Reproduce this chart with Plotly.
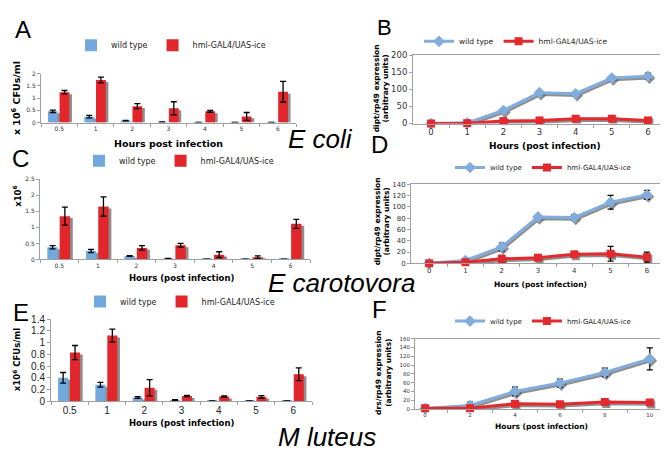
"""Bacterial load and AMP induction panels (A-F) rebuilt with plotly."""

import plotly.graph_objects as go

W, H = 668, 453

BLUE = "#71a8de"
RED = "#e3262b"
SHADOW = "#8e8e8e"
LINE_BLUE = "#82acdc"
LINE_RED = "#e22a2e"
AXIS = "#a0a0a0"
VERDANA = "DejaVu Sans, Verdana, sans-serif"
ARIAL = "Liberation Sans, Arial, sans-serif"

# --- bar panels: CFUs after infection -------------------------------------
HOURS_BAR = ["0.5", "1", "2", "3", "4", "5", "6"]

ECOLI_WT = [0.46, 0.24, 0.08, 0.02, 0.01, 0.005, 0.005]
ECOLI_WT_ERR = [0.05, 0.05, 0.01, 0.005, 0, 0, 0]
ECOLI_ICE = [1.24, 1.74, 0.67, 0.58, 0.46, 0.25, 1.26]
ECOLI_ICE_ERR = [0.07, 0.12, 0.1, 0.27, 0.04, 0.16, 0.42]

ECARO_WT = [0.38, 0.26, 0.11, 0.03, 0.01, 0.01, 0.01]
ECARO_WT_ERR = [0.05, 0.05, 0.01, 0.005, 0, 0, 0]
ECARO_ICE = [1.35, 1.65, 0.36, 0.44, 0.15, 0.07, 1.11]
ECARO_ICE_ERR = [0.28, 0.3, 0.07, 0.06, 0.09, 0.04, 0.14]

MLUT_WT = [0.4, 0.28, 0.065, 0.02, 0.005, 0.005, 0.005]
MLUT_WT_ERR = [0.09, 0.04, 0.015, 0.005, 0, 0, 0]
MLUT_ICE = [0.83, 1.12, 0.23, 0.09, 0.08, 0.075, 0.46]
MLUT_ICE_ERR = [0.12, 0.11, 0.14, 0.01, 0.01, 0.02, 0.11]

# --- line panels: AMP expression ------------------------------------------
HOURS_LINE = [0, 1, 2, 3, 4, 5, 6]

DIPT_ECOLI_WT = [0, 2, 38, 90, 87, 133, 138]
DIPT_ECOLI_WT_ERR = [0.5, 1, 4, 5, 4, 5, 9]
DIPT_ECOLI_ICE = [0, 1, 7, 9, 14, 14, 9]
DIPT_ECOLI_ICE_ERR = [0.5, 1, 3, 3, 4, 4, 3]

DIPT_ECARO_WT = [0, 5, 29, 82, 81, 108, 121]
DIPT_ECARO_WT_ERR = [0.5, 2, 7, 3, 5, 12, 8]
DIPT_ECARO_ICE = [0, 2, 8, 10, 16, 17, 11]
DIPT_ECARO_ICE_ERR = [0.5, 1, 6, 3, 4, 13, 9]

HOURS_DRS = [0, 2, 4, 6, 8, 10]
DRS_WT = [1, 8, 40, 59, 83, 114]
DRS_WT_ERR = [1, 8, 10, 9, 10, 25]
DRS_ICE = [2, 2, 12, 11, 16, 15]
DRS_ICE_ERR = [1, 2, 3, 2, 3, 3]


def dom_x(a, b):
    return [a / W, b / W]


def dom_y(top, bottom):
    return [1 - bottom / H, 1 - top / H]


def names(k):
    s = "" if k == 1 else str(k)
    return "x" + s, "y" + s, "xaxis" + s, "yaxis" + s, "legend" + s


def legend_cfg(cx, cy, size):
    return dict(orientation="h", x=cx / W, y=1 - cy / H, xanchor="center", yanchor="middle",
                font=dict(family=VERDANA, size=size, color="#222"), bgcolor="rgba(0,0,0,0)",
                itemwidth=30)


def bar_panel(fig, k, wt, wt_err, ice, ice_err, ymax, dtick, box, tick_font, leg):
    xa, ya, xname, yname, lname = names(k)
    x0, x1, top, bottom = box
    px = ymax / (bottom - top)
    series = ((wt, wt_err, BLUE, "wild type", -0.31), (ice, ice_err, RED, "hml-GAL4/UAS-ice", 0.01))
    for vals, _, _, _, off in series:
        fig.add_trace(go.Bar(
            x=HOURS_BAR, y=[max(v - 2 * px, 0) for v in vals], offset=off + 0.07, width=0.27,
            marker=dict(color=SHADOW, line=dict(width=0)), xaxis=xa, yaxis=ya,
            showlegend=False, hoverinfo="skip",
        ))
    for vals, errs, color, name, off in series:
        fig.add_trace(go.Bar(
            x=HOURS_BAR, y=vals, offset=off, width=0.27, name=name, legend=lname,
            marker=dict(color=color, line=dict(width=0)), xaxis=xa, yaxis=ya,
            error_y=dict(type="data", array=errs, color="black", thickness=1.3, width=3),
        ))
    fig.update_layout(**{
        xname: dict(domain=dom_x(x0, x1), anchor=ya, type="category", tickson="boundaries",
                    showline=True, linecolor=AXIS, ticks="outside", ticklen=3, tickcolor=AXIS,
                    showgrid=False, tickfont=tick_font),
        yname: dict(domain=dom_y(top, bottom), anchor=xa, range=[0, ymax], dtick=dtick,
                    showline=True, linecolor=AXIS, ticks="outside", ticklen=3, tickcolor=AXIS,
                    showgrid=False, zeroline=False, tickfont=tick_font),
        lname: leg,
    })


def line_panel(fig, k, hours, wt, wt_err, ice, ice_err, ymax, dtick, xrange, box, tick_font, leg):
    xa, ya, xname, yname, lname = names(k)
    x0, x1, top, bottom = box
    py = ymax / (bottom - top)
    px = (xrange[1] - xrange[0]) / (x1 - x0)
    series = ((wt, wt_err, LINE_BLUE, "diamond", "wild type", 9),
              (ice, ice_err, LINE_RED, "square", "hml-GAL4/UAS-ice", 8))
    for vals, _, _, sym, _, size in series:
        fig.add_trace(go.Scatter(
            x=[h + 1.5 * px for h in hours], y=[v - 2 * py for v in vals], mode="lines+markers",
            line=dict(color="rgba(95,95,95,0.7)", width=2.5),
            marker=dict(symbol=sym, size=size, color="rgba(95,95,95,0.7)"),
            xaxis=xa, yaxis=ya, showlegend=False, hoverinfo="skip", cliponaxis=True,
        ))
    for vals, errs, color, sym, name, size in series:
        fig.add_trace(go.Scatter(
            x=hours, y=vals, mode="lines+markers", name=name, legend=lname,
            line=dict(color=color, width=3), marker=dict(symbol=sym, size=size, color=color),
            error_y=dict(type="data", array=errs, color="black", thickness=1.2, width=3),
            xaxis=xa, yaxis=ya, cliponaxis=False,
        ))
    step = hours[1] - hours[0]
    fig.update_layout(**{
        xname: dict(domain=dom_x(x0, x1), anchor=ya, range=xrange, tickvals=hours, ticks="",
                    minor=dict(tickmode="array", tickvals=[h + step / 2 for h in hours[:-1]],
                               ticks="outside", ticklen=3, tickcolor=AXIS),
                    showline=True, mirror=True, linecolor=AXIS, showgrid=False, zeroline=False,
                    tickfont=tick_font),
        yname: dict(domain=dom_y(top, bottom), anchor=xa, range=[0, ymax], dtick=dtick,
                    showline=True, mirror=True, linecolor=AXIS, ticks="outside", ticklen=3,
                    tickcolor=AXIS, showgrid=False, zeroline=False, tickfont=tick_font),
        lname: leg,
    })


def text(x, y, s, size, family=VERDANA, bold=False, angle=0, italic=False):
    return dict(x=x / W, y=1 - y / H, xref="paper", yref="paper", text=s, showarrow=False,
                textangle=angle, xanchor="center", yanchor="middle", borderpad=0,
                font=dict(family=family, size=size, color="black",
                          weight="bold" if bold else "normal",
                          style="italic" if italic else "normal"))


fig = go.Figure()

bar_panel(fig, 1, ECOLI_WT, ECOLI_WT_ERR, ECOLI_ICE, ECOLI_ICE_ERR, 2, 0.5,
          (33, 288, 62, 112), dict(family=VERDANA, size=6, color="#333"), legend_cfg(163, 33, 8))
line_panel(fig, 2, HOURS_LINE, DIPT_ECOLI_WT, DIPT_ECOLI_WT_ERR, DIPT_ECOLI_ICE, DIPT_ECOLI_ICE_ERR,
           200, 50, [-0.5, 6.5], (405, 658, 43, 113), dict(family=VERDANA, size=8.5, color="#333"),
           legend_cfg(508, 29, 7.5))
bar_panel(fig, 3, ECARO_WT, ECARO_WT_ERR, ECARO_ICE, ECARO_ICE_ERR, 2.5, 0.5,
          (32, 302, 170, 252), dict(family=VERDANA, size=6, color="#333"), legend_cfg(171, 151, 8))
line_panel(fig, 4, HOURS_LINE, DIPT_ECARO_WT, DIPT_ECARO_WT_ERR, DIPT_ECARO_ICE, DIPT_ECARO_ICE_ERR,
           140, 20, [-0.5, 6.5], (403, 657, 175, 256), dict(family=VERDANA, size=7, color="#333"),
           legend_cfg(535, 158, 7))
bar_panel(fig, 5, MLUT_WT, MLUT_WT_ERR, MLUT_ICE, MLUT_ICE_ERR, 1.4, 0.2,
          (43, 304, 313, 397), dict(family=ARIAL, size=10, color="#222"), legend_cfg(172, 295, 8))
line_panel(fig, 6, HOURS_DRS, DRS_WT, DRS_WT_ERR, DRS_ICE, DRS_ICE_ERR,
           160, 20, [-0.45, 10.5], (407, 653, 333, 405), dict(family=VERDANA, size=5.5, color="#333"),
           legend_cfg(535, 315, 7))

notes = [
    # panel letters
    text(15, 17, "A", 24, ARIAL), text(376, 15, "B", 22, ARIAL), text(12, 149, "C", 24, ARIAL),
    text(371, 134, "D", 24, ARIAL), text(13, 306, "E", 24, ARIAL), text(371, 303, "F", 24, ARIAL),
    # bacteria
    text(312, 129, "E coli", 26, ARIAL, italic=True),
    text(333, 276, "E carotovora", 26, ARIAL, italic=True),
    text(319, 434, "M luteus", 26, ARIAL, italic=True),
    # axis titles
    text(160, 133, "Hours post infection", 9.5, bold=True),
    text(8, 87, "x 10<sup>6</sup> CFUs/ml", 9.5, bold=True, angle=-90),
    text(173, 271, "Hours (post infection)", 8.5, bold=True),
    text(9, 188, "x10<sup>6</sup>", 8.5, bold=True, angle=-90),
    text(173, 419, "Hours (post infection)", 8.5, bold=True),
    text(9, 355, "x10<sup>6</sup> CFUs/ml", 8.5, bold=True, angle=-90),
    text(537, 136, "Hours (post infection)", 9, bold=True),
    text(373, 77, "dipt/rp49 expression<br>(arbitrary units)", 7.5, bold=True, angle=-90),
    text(532, 278, "Hours (post infection)", 7.5, bold=True),
    text(374, 213, "dipt/rp49 expression<br>(arbitrary units)", 7.5, bold=True, angle=-90),
    text(533, 423, "Hours (post infection)", 7.5, bold=True),
    text(376, 368, "drs/rp49 expression<br>(arbitrary units)", 7.5, bold=True, angle=-90),
]

fig.update_layout(
    width=W, height=H, autosize=False, margin=dict(l=0, r=0, t=0, b=0),
    paper_bgcolor="white", plot_bgcolor="white", barmode="overlay",
    annotations=notes, hovermode=False,
)

fig.write_html("out.html")
